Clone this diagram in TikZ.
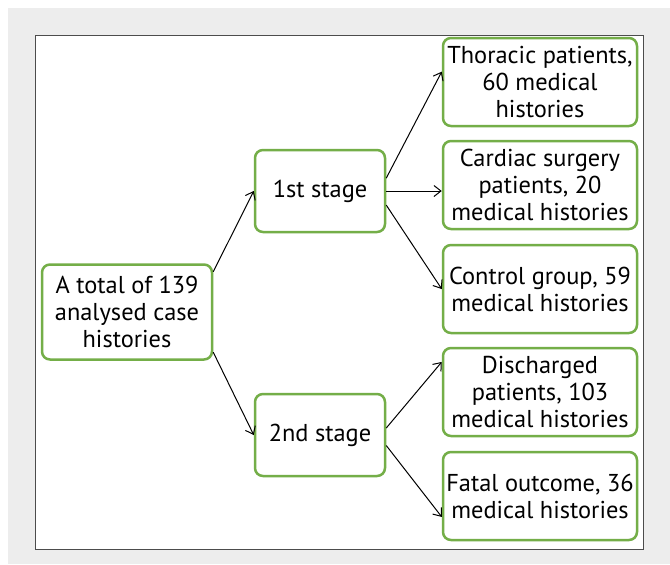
\documentclass[tikz,border=0pt]{standalone}
\usepackage{fontspec}
\setmainfont{PT Sans}
\usetikzlibrary{arrows.meta}
\definecolor{boxgreen}{HTML}{74AE48}
\definecolor{bggray}{HTML}{EDEDED}
\begin{document}
\begin{tikzpicture}[x=0.5pt, y=-0.5pt, >={Straight Barb[length=3.5pt, width=5.5pt]},
    every node/.style={font=\fontsize{12.2}{13.5}\selectfont}]

% Styles for the boxes
\tikzset{
    box/.style={
        draw=boxgreen,
        line width=1.25pt,
        rounded corners=4pt,
        fill=white,
        align=center,
        inner sep=0pt
    },
    rootbox/.style={box, minimum width=85pt, minimum height=47.5pt},
    stagebox/.style={box, minimum width=65pt, minimum height=41pt},
    groupbox/.style={box, minimum width=97pt, minimum height=44pt},
    link/.style={->, line width=0.5pt, black}
}

% Background and frame
\useasboundingbox (0,0) rectangle (670,564);
\fill[white] (0,0) rectangle (670,564);
\fill[bggray] (8,8) rectangle (670,564);
\draw[draw=black!70, fill=white, line width=0.5pt] (35,35) rectangle (643,549);

% Root
\node[rootbox] (root) at (127,312) {A total of 139\\analysed case\\histories};

% Stages
\node[stagebox] (first) at (320,191) {1st stage};
\node[stagebox] (second) at (320,435) {2nd stage};

% Groups
\node[groupbox] (thor) at (540,82) {Thoracic patients,\\60 medical\\histories};
\node[groupbox] (card) at (540,185) {Cardiac surgery\\patients, 20\\medical histories};
\node[groupbox] (ctrl) at (540,289) {Control group, 59\\medical histories};
\node[groupbox] (disch) at (540,392) {Discharged\\patients, 103\\medical histories};
\node[groupbox] (fatal) at (540,496) {Fatal outcome, 36\\medical histories};

% Connectors
\draw[link] (root.25) -- (first.west);
\draw[link] (root.-25) -- (second.west);
\draw[link] (first.11) -- (thor.174);
\draw[link] (first.east) -- (first.east -| card.west);
\draw[link] (first.-12) -- (ctrl.west);
\draw[link] (second.6) -- (disch.163);
\draw[link] (second.-9) -- (fatal.192);

\end{tikzpicture}
\end{document}
